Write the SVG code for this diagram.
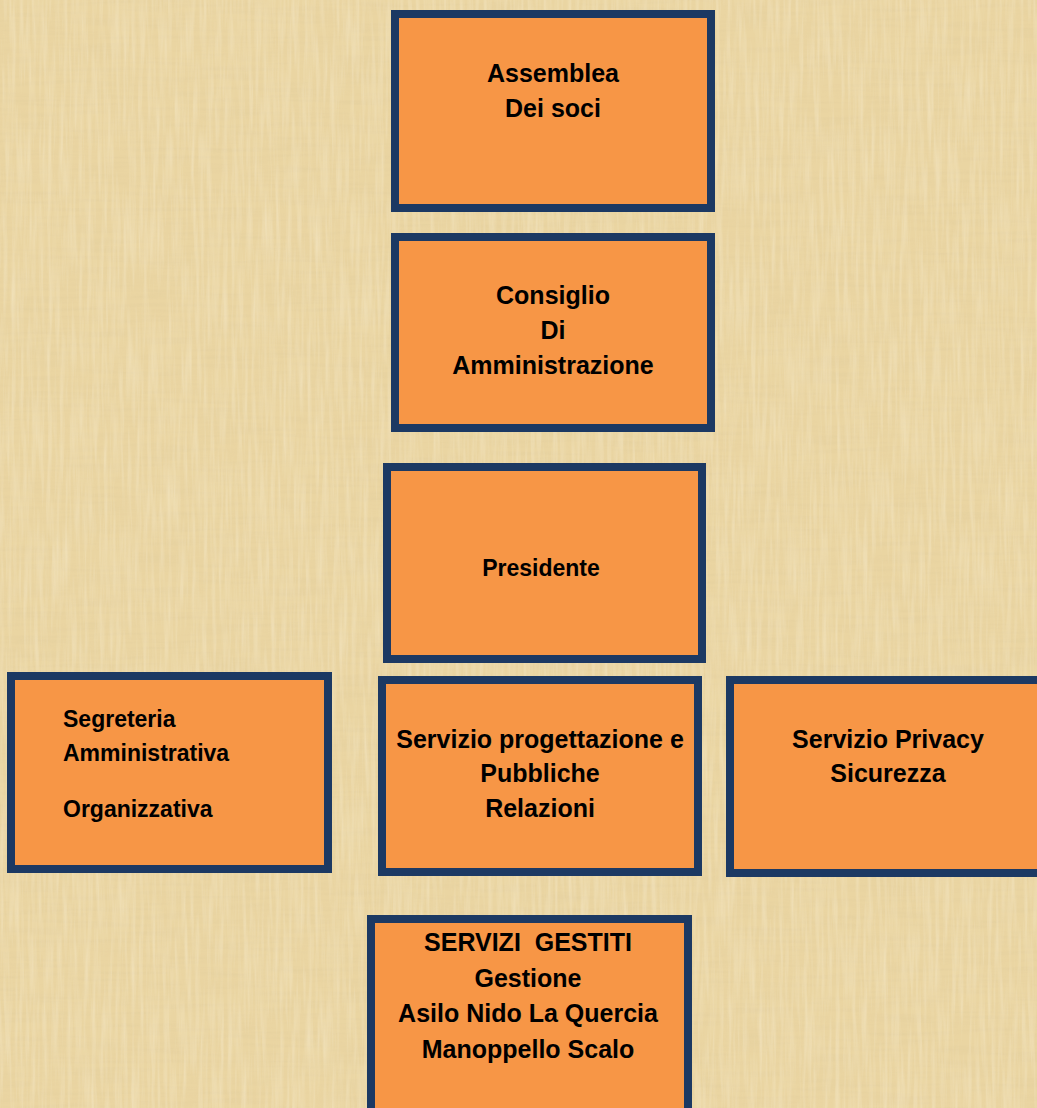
<svg xmlns="http://www.w3.org/2000/svg" width="1037" height="1108" viewBox="0 0 1037 1108">
<defs>
<filter id="papyrus" x="0" y="0" width="100%" height="100%">
<feTurbulence type="fractalNoise" baseFrequency="0.015 0.25" numOctaves="3" seed="4" result="n1"/>
<feColorMatrix in="n1" type="matrix" values="0 0 0 0 0.72  0 0 0 0 0.58  0 0 0 0 0.32  0 0 0 0.9 -0.35" result="a"/>
<feTurbulence type="fractalNoise" baseFrequency="0.25 0.015" numOctaves="3" seed="9" result="n2"/>
<feColorMatrix in="n2" type="matrix" values="0 0 0 0 1  0 0 0 0 0.95  0 0 0 0 0.8  0 0 0 0.9 -0.35" result="b"/>
<feMerge><feMergeNode in="a"/><feMergeNode in="b"/></feMerge>
</filter>
<style>
.box{fill:#F79646;stroke:#1C3963;stroke-width:8}
.t{font-family:"Liberation Sans",Arial,sans-serif;font-weight:bold;fill:#000;font-size:25px;text-anchor:middle;white-space:pre}
.s{font-size:23px}
.l{text-anchor:start}
</style>
</defs>
<rect width="1037" height="1108" fill="#EAD5A2"/>
<rect width="1037" height="1108" filter="url(#papyrus)" opacity="0.6"/>
<g id="connectors"></g>
<g id="assemblea">
<rect class="box" x="395" y="14" width="316" height="194"/>
<text class="t" x="553" y="82">Assemblea</text>
<text class="t" x="553" y="117">Dei soci</text>
</g>
<g id="consiglio">
<rect class="box" x="395" y="237" width="316" height="191"/>
<text class="t" x="553" y="304">Consiglio</text>
<text class="t" x="553" y="339">Di</text>
<text class="t" x="553" y="374">Amministrazione</text>
</g>
<g id="presidente">
<rect class="box" x="387" y="467" width="315" height="192"/>
<text class="t s" x="541" y="576">Presidente</text>
</g>
<g id="segreteria">
<rect class="box" x="11" y="676" width="317" height="193"/>
<text class="t s l" x="63" y="727">Segreteria</text>
<text class="t s l" x="63" y="761">Amministrativa</text>
<text class="t s l" x="63" y="817">Organizzativa</text>
</g>
<g id="progettazione">
<rect class="box" x="382" y="680" width="316" height="192"/>
<text class="t" x="540" y="748">Servizio progettazione e</text>
<text class="t" x="540" y="782">Pubbliche</text>
<text class="t" x="540" y="817">Relazioni</text>
</g>
<g id="privacy">
<rect class="box" x="730" y="680" width="320" height="193"/>
<text class="t" x="888" y="748">Servizio Privacy</text>
<text class="t" x="888" y="782">Sicurezza</text>
</g>
<g id="servizi">
<rect class="box" x="371" y="919" width="317" height="200"/>
<text class="t" x="528" y="951" xml:space="preserve">SERVIZI  GESTITI</text>
<text class="t" x="528" y="987">Gestione</text>
<text class="t" x="528" y="1022">Asilo Nido La Quercia</text>
<text class="t" x="528" y="1058">Manoppello Scalo</text>
</g>
</svg>
